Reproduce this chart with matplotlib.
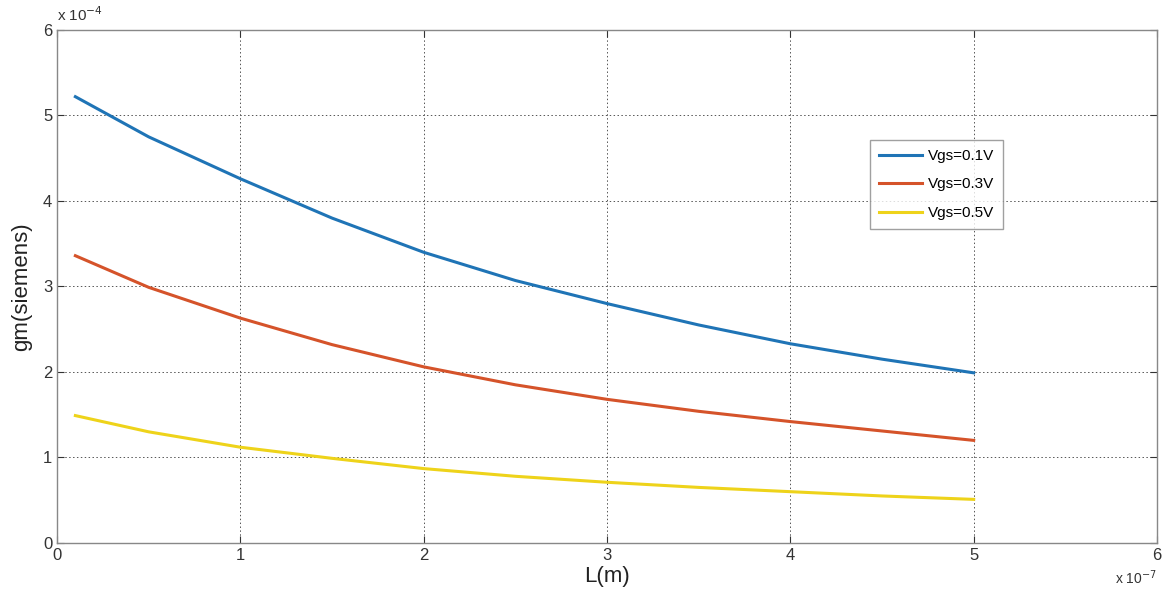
import matplotlib
matplotlib.use("Agg")
import matplotlib.pyplot as plt
from matplotlib.ticker import FuncFormatter

L_vals = [0.1e-7, 0.5e-7, 1.0e-7, 1.5e-7, 2.0e-7, 2.5e-7, 3.0e-7, 3.5e-7, 4.0e-7, 4.5e-7, 5.0e-7]
gm_01 = [5.22e-4, 4.75e-4, 4.26e-4, 3.80e-4, 3.40e-4, 3.07e-4, 2.80e-4, 2.55e-4, 2.33e-4, 2.15e-4, 1.99e-4]
gm_03 = [3.36e-4, 2.99e-4, 2.63e-4, 2.32e-4, 2.06e-4, 1.85e-4, 1.68e-4, 1.54e-4, 1.42e-4, 1.31e-4, 1.20e-4]
gm_05 = [1.49e-4, 1.30e-4, 1.12e-4, 0.99e-4, 0.87e-4, 0.78e-4, 0.71e-4, 0.65e-4, 0.60e-4, 0.55e-4, 0.51e-4]
labels = ["Vgs=0.1V", "Vgs=0.3V", "Vgs=0.5V"]
x_ticks = [0, 1, 2, 3, 4, 5, 6]
y_ticks = [0, 1, 2, 3, 4, 5, 6]

plt.rcParams['font.family'] = ['Liberation Sans', 'DejaVu Sans']

fig = plt.figure(figsize=(11.64, 5.94), dpi=100)
ax = fig.add_axes([0.049, 0.0859, 0.945, 0.8636])

colors = ["#1f74b6", "#d5532a", "#eed31a"]
for y, lab, c in zip([gm_01, gm_03, gm_05], labels, colors):
    ax.plot(L_vals, y, color=c, lw=2.2, label=lab)

ax.set_xlim(0, 6e-7)
ax.set_ylim(0, 6e-4)
ax.set_xticks([t * 1e-7 for t in x_ticks])
ax.set_yticks([t * 1e-4 for t in y_ticks])
ax.xaxis.set_major_formatter(FuncFormatter(lambda v, p: f"{v*1e7:.0f}"))
ax.yaxis.set_major_formatter(FuncFormatter(lambda v, p: f"{v*1e4:.0f}"))
ax.tick_params(direction='in', length=5, labelsize=12, colors='#333333', width=0.8)
ax.tick_params(top=True, right=True)
ax.grid(True, linestyle=(0, (1.5, 2.5)), color='#555555', lw=0.7)
for s in ax.spines.values():
    s.set_color('#888888')
    s.set_linewidth(1.0)

ax.set_xlabel("L(m)", fontsize=16, color='#222222', labelpad=2)
ax.set_ylabel("gm(siemens)", fontsize=16, color='#222222', labelpad=8)

ax.text(0.0, 1.012, r"x 10$^{-4}$", transform=ax.transAxes, fontsize=11, color='#333333', ha='left', va='bottom')
ax.text(1.0, -0.068, r"x 10$^{-7}$", transform=ax.transAxes, fontsize=10, color='#333333', ha='right', va='center')

leg = ax.legend(loc='upper left', bbox_to_anchor=(0.739, 0.786), fontsize=11, frameon=True,
                fancybox=False, edgecolor='#888888', handlelength=2.8, borderpad=0.6,
                labelspacing=0.95, handletextpad=0.4, borderaxespad=0)
leg.get_frame().set_linewidth(1.0)

fig.savefig("out.png", dpi=100)
